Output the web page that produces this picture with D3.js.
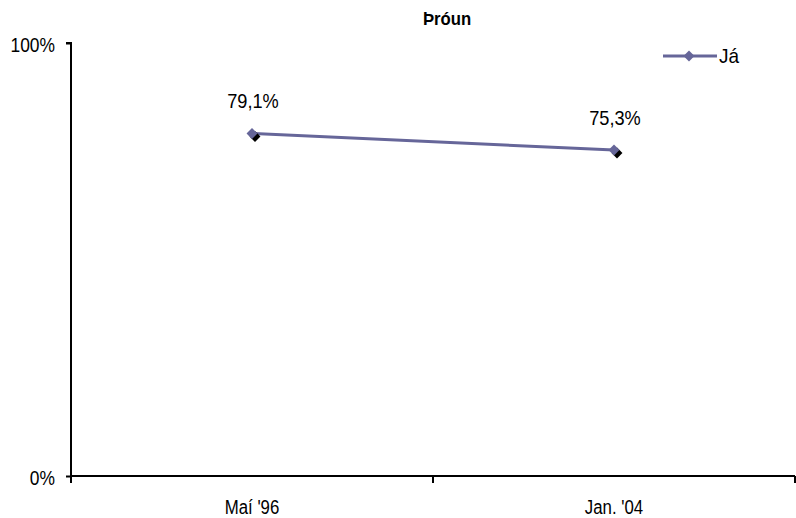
<!DOCTYPE html>
<html>
<head>
<meta charset="utf-8">
<script src="https://cdn.jsdelivr.net/npm/d3@7"></script>
<style>
  html, body { margin: 0; padding: 0; background: #fff; }
  svg text { font-family: "Liberation Sans", Arial, sans-serif; fill: #000; }
</style>
</head>
<body>
<svg id="chart" width="796" height="518"></svg>
<script>
const categories = ["Maí '96", "Jan. '04"];
const seriesName = "Já";
const values = [0.791, 0.753];
const valueLabels = ["79,1%", "75,3%"];
const yTicks = [0, 1];
const yTickLabels = ["0%", "100%"];
const title = "Þróun";

const svg = d3.select("#chart");
const plotLeft = 71, plotRight = 795, plotTop = 43, plotBottom = 476;
const lineColor = "#666699";

const x = d3.scaleBand().domain(categories).range([plotLeft, plotRight]);
const y = d3.scaleLinear().domain([0, 1]).range([plotBottom, plotTop]);

// Places narrow (horizontally compressed) text at a point
function narrowText(parent, px, py, str, size, sx, anchor, weight) {
  return parent.append("text")
    .attr("transform", `translate(${px},${py}) scale(${sx},1)`)
    .attr("text-anchor", anchor || "middle")
    .attr("font-size", size)
    .attr("font-weight", weight || "normal")
    .text(str);
}

// Title
narrowText(svg, 447, 25, title, 19, 0.88, "middle", "bold");

// Y axis
const yAxis = d3.axisLeft(y).tickValues(yTicks)
  .tickFormat((d, i) => yTickLabels[i]).tickSize(5).tickPadding(0);
const gy = svg.append("g").attr("transform", `translate(${plotLeft},0)`).call(yAxis);
gy.select(".domain").attr("stroke", "#000").attr("stroke-width", 2)
  .attr("d", `M-5,${plotTop}H0V${plotBottom}`);
gy.selectAll(".tick line").attr("stroke", "#000").attr("stroke-width", 2);
gy.selectAll(".tick text").attr("x", null).attr("dy", null)
  .attr("transform", "translate(-16,8) scale(0.87,1)")
  .attr("font-size", 20).style("font-family", null);

// X axis: ticks on the band boundaries, labels centred in each band
const xAxis = d3.axisBottom(x).tickSize(0).tickPadding(0);
const gx = svg.append("g").attr("transform", `translate(0,${plotBottom})`).call(xAxis);
gx.select(".domain").attr("stroke", "#000").attr("stroke-width", 2)
  .attr("d", `M${plotLeft},0H${plotRight}`);
gx.selectAll(".tick text").attr("y", null).attr("dy", null)
  .attr("transform", "translate(0,38) scale(0.8,1)")
  .attr("font-size", 21).style("font-family", null);
const bounds = [plotLeft].concat(categories.map(c => x(c) + x.bandwidth()));
gx.selectAll(".bound").data(bounds).enter().append("line")
  .attr("x1", d => d).attr("x2", d => d).attr("y1", 0).attr("y2", 7)
  .attr("stroke", "#000").attr("stroke-width", 2);

const cx = c => x(c) + x.bandwidth() / 2;
const pts = categories.map((c, i) => ({ c, v: values[i], label: valueLabels[i] }));

// Series line
svg.append("path").datum(pts)
  .attr("d", d3.line().x(d => cx(d.c)).y(d => y(d.v)))
  .attr("fill", "none").attr("stroke", lineColor).attr("stroke-width", 3);

const diamond = d3.symbol().type(d3.symbolDiamond2).size(76);
// Marker shadows
svg.selectAll(".shadow").data(pts).enter().append("path")
  .attr("transform", d => `translate(${cx(d.c) + 3},${y(d.v) + 3})`)
  .attr("d", diamond).attr("fill", "#000");
// Markers
svg.selectAll(".marker").data(pts).enter().append("path")
  .attr("transform", d => `translate(${cx(d.c)},${y(d.v)})`)
  .attr("d", diamond).attr("fill", lineColor);

// Value labels
pts.forEach(d => narrowText(svg, cx(d.c) + 1, y(d.v) - 25, d.label, 20, 0.91));

// Legend
const lg = svg.append("g").attr("transform", "translate(663,56)");
lg.append("line").attr("x1", 0).attr("x2", 54).attr("y1", 0).attr("y2", 0)
  .attr("stroke", lineColor).attr("stroke-width", 3);
lg.append("path").attr("transform", "translate(26,0)").attr("d", diamond).attr("fill", lineColor);
narrowText(lg, 56, 7, seriesName, 20, 0.95, "start");
</script>
</body>
</html>
